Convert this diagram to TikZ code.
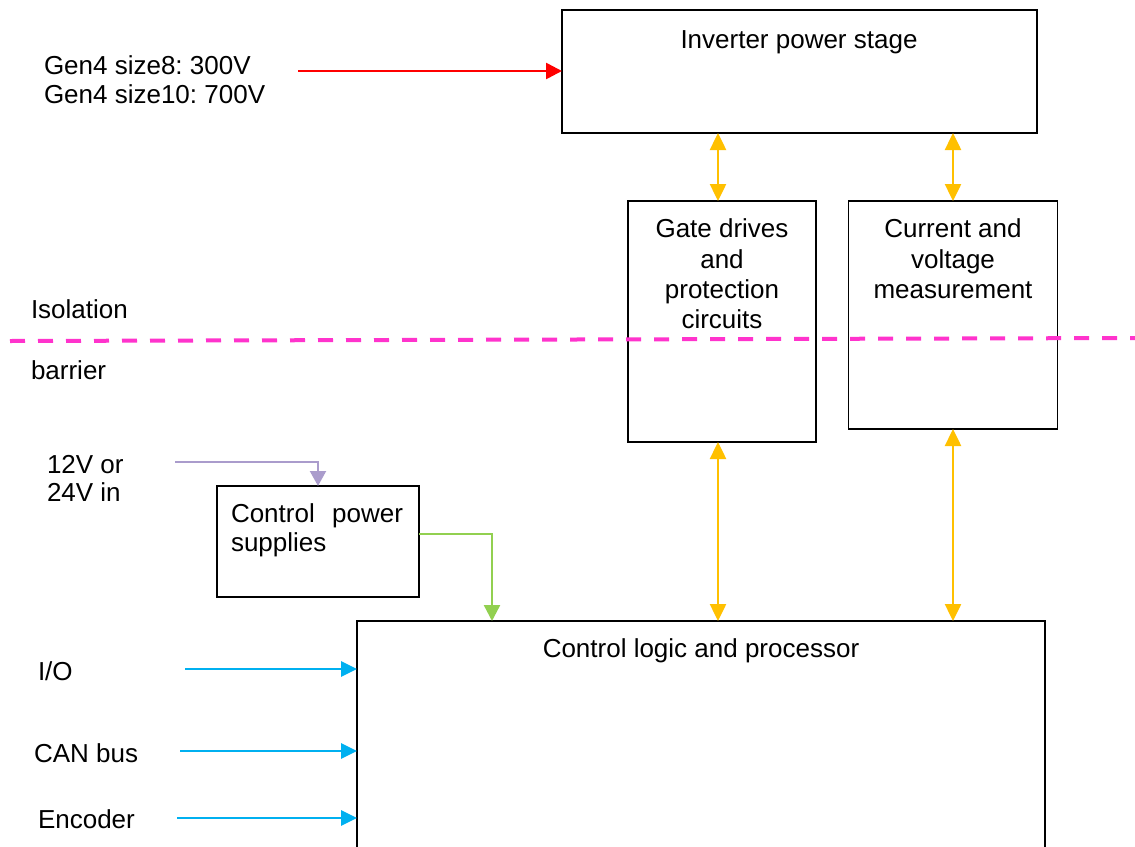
\documentclass[tikz,border=0pt]{standalone}
\usepackage{fontspec}
\setmainfont{Liberation Sans}
\usetikzlibrary{arrows.meta}
\definecolor{cred}{HTML}{FF0000}
\definecolor{cyel}{HTML}{FFC000}
\definecolor{cblue}{HTML}{00B0F0}
\definecolor{cgreen}{HTML}{92D050}
\definecolor{cpurp}{HTML}{AA9CCC}
\definecolor{cpink}{HTML}{FF33CC}
\frenchspacing
\begin{document}
\frenchspacing
\begin{tikzpicture}[x=1pt,y=-1pt,
  every node/.style={font=\fontsize{26}{30.3}\selectfont, inner sep=0pt, outer sep=0pt},
  box/.style={draw=black, line width=1.9pt},
  yarr/.style={draw=cyel, line width=2.5pt, {Triangle[length=17pt,width=16pt]}-{Triangle[length=17pt,width=16pt]}},
  rarr/.style={draw=cred, line width=2.6pt, -{Triangle[length=16pt,width=16pt]}},
  barr/.style={draw=cblue, line width=2.8pt, -{Triangle[length=16pt,width=15pt]}},
  parr/.style={draw=cpurp, line width=2.2pt, -{Triangle[length=15pt,width=16pt]}},
  garr/.style={draw=cgreen, line width=2.4pt, -{Triangle[length=16pt,width=16pt]}},
  barrier/.style={draw=cpink, line width=4pt, dash pattern=on 15pt off 13pt}
]
\useasboundingbox (0,0) rectangle (1135,846);
\clip (0,0) rectangle (1135,846);

% boxes
\node[box, minimum width=475pt, minimum height=123pt] (inv) at (799.5,71.5) {};
\node[box, minimum width=188pt, minimum height=241pt] (gate) at (722,321.5) {};
\node[box, minimum width=209pt, minimum height=228pt] (cur) at (953,315) {};
\node[box, minimum width=202pt, minimum height=111pt] (cps) at (318,541.5) {};
\node[box, minimum width=688pt, minimum height=279pt] (ctl) at (701,760.5) {};

% box texts
\node[anchor=base] (invt) at (799,48) {Inverter power stage};
\node[anchor=north, align=center] (gatet) at (722,219) {Gate drives\\and\\protection\\circuits};
\node[anchor=north, align=center] (curt) at (953,219) {Current and\\voltage\\measurement};
\node[anchor=north west, align=left, font=\fontsize{26}{29}\selectfont] (cpst) at (231,504) {\makebox[172pt][s]{Control power}\\supplies};
\node[anchor=base] (ctlt) at (701,657) {Control logic and processor};

% side labels
\node[anchor=north west, align=left, font=\fontsize{26}{29}\selectfont] (gen) at (44,56) {Gen4 size8: 300V\\Gen4 size10: 700V};
\node[anchor=base west] (iso) at (31,318) {Isolation};
\node[anchor=base west] (bar) at (31,379) {barrier};
\node[anchor=north west, align=left, font=\fontsize{26}{28}\selectfont] (vin) at (47,455) {12V or\\24V in};
\node[anchor=base west] (iol) at (38,680) {I/O};
\node[anchor=base west] (canl) at (34,762) {CAN bus};
\node[anchor=base west] (encl) at (38,828) {Encoder};

% isolation barrier
\coordinate (bl) at (10,341);
\coordinate (br) at (1140,338);
\draw[barrier] (bl) -- (br);

% connectors
\coordinate (rin) at (298,71);
\draw[rarr] (rin) -- (rin -| inv.west);

\draw[yarr] ([xshift=-4pt]gate.north) -- ([xshift=-4pt]gate.north |- inv.south);
\draw[yarr] (cur.north) -- (cur.north |- inv.south);
\draw[yarr] ([xshift=-4pt]gate.south) -- ([xshift=-4pt]gate.south |- ctl.north);
\draw[yarr] (cur.south) -- (cur.south |- ctl.north);

\coordinate (pin) at (175,462);
\draw[parr] (pin) -| (cps.north);

\draw[garr] ([yshift=7.5pt]cps.east) -| ([xshift=135pt]ctl.north west);

\coordinate (io) at (185,669);
\coordinate (can) at (180,751);
\coordinate (enc) at (177,818);
\draw[barr] (io) -- (io -| ctl.west);
\draw[barr] (can) -- (can -| ctl.west);
\draw[barr] (enc) -- (enc -| ctl.west);
\end{tikzpicture}
\end{document}
